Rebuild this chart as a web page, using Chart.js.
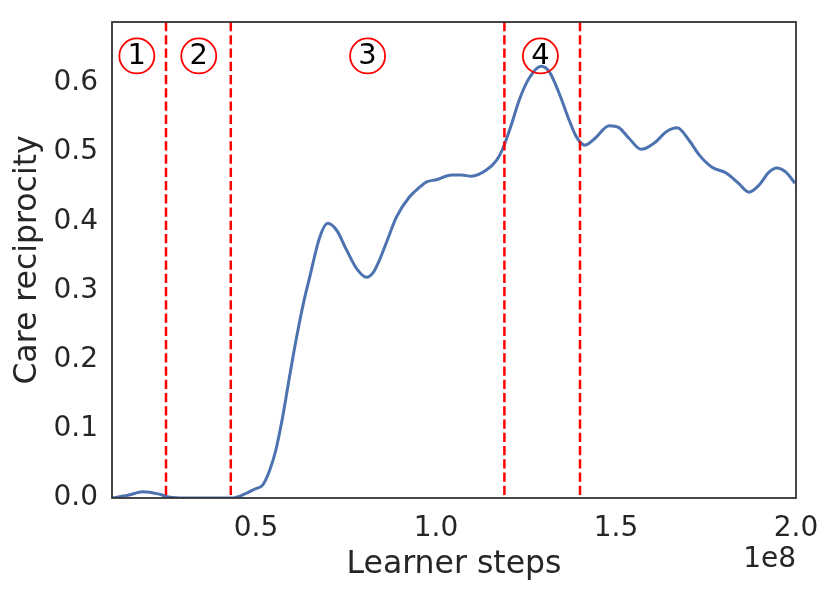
<!DOCTYPE html>
<html>
<head>
<meta charset="utf-8">
<script src="https://cdn.jsdelivr.net/npm/chart.js@4/dist/chart.umd.min.js"></script>
<style>
  html, body { margin: 0; padding: 0; background: #ffffff; }
  #wrap { width: 831px; height: 593px; }
</style>
</head>
<body>
<div id="wrap"><canvas id="c" width="831" height="593"></canvas></div>
<script>
// Learner steps (in units of 1e8)
const steps = [0.100, 0.144, 0.186, 0.228, 0.261, 0.302, 0.350, 0.400, 0.436, 0.474, 0.497, 0.519,
  0.538, 0.555, 0.574, 0.594, 0.613, 0.632, 0.649, 0.677, 0.699, 0.724, 0.752, 0.779, 0.807,
  0.827, 0.843, 0.865, 0.890, 0.926, 0.954, 0.974, 1.001, 1.043, 1.071, 1.098, 1.140, 1.168,
  1.184, 1.209, 1.231, 1.259, 1.292, 1.315, 1.342, 1.370, 1.390, 1.414, 1.442, 1.481, 1.509,
  1.536, 1.570, 1.606, 1.642, 1.670, 1.703, 1.731, 1.767, 1.805, 1.842, 1.869, 1.897, 1.925,
  1.947, 1.972, 1.997];
// Care reciprocity
const careReciprocity = [0.000, 0.004, 0.009, 0.006, 0.001, 0.000, 0.000, 0.000, 0.000, 0.007, 0.013, 0.019,
  0.040, 0.069, 0.117, 0.178, 0.233, 0.282, 0.319, 0.377, 0.397, 0.387, 0.358, 0.332, 0.319,
  0.327, 0.344, 0.373, 0.406, 0.435, 0.449, 0.457, 0.460, 0.467, 0.467, 0.465, 0.474, 0.488,
  0.503, 0.539, 0.575, 0.607, 0.624, 0.616, 0.585, 0.546, 0.522, 0.510, 0.520, 0.538, 0.535,
  0.520, 0.504, 0.513, 0.530, 0.535, 0.517, 0.496, 0.478, 0.470, 0.454, 0.442, 0.452, 0.471,
  0.477, 0.471, 0.455];
// Phase boundaries (vertical dashed lines), in units of 1e8
const phaseBoundaries = [0.25, 0.43, 1.19, 1.40];
// Phase labels and their x positions
const phaseLabels = ['1', '2', '3', '4'];
const phaseLabelX = [0.169, 0.341, 0.810, 1.290];
const phaseLabelY = 0.639;
// Tick labels
const xTicks = [0.5, 1.0, 1.5, 2.0];
const yTicks = [0.0, 0.1, 0.2, 0.3, 0.4, 0.5, 0.6];
const xRange = [0.1, 2.0];
const yRange = [0, 0.688];

const FONT = "'DejaVu Sans', sans-serif";
const TEXT = '#262626';

const overlay = {
  id: 'overlay',
  afterDatasetsDraw(chart) {
    const {ctx, chartArea: a, scales: {x, y}} = chart;
    ctx.save();
    // dashed phase boundaries
    ctx.strokeStyle = '#ff0000';
    ctx.lineWidth = 2.5;
    ctx.setLineDash([9.25, 4]);
    phaseBoundaries.forEach(b => {
      const px = x.getPixelForValue(b);
      ctx.beginPath();
      ctx.moveTo(px, a.top);
      ctx.lineTo(px, a.bottom);
      ctx.stroke();
    });
    ctx.setLineDash([]);
    // circled labels
    phaseLabels.forEach((t, i) => {
      const px = x.getPixelForValue(phaseLabelX[i]);
      const py = y.getPixelForValue(phaseLabelY);
      ctx.beginPath();
      ctx.arc(px, py, 17.5, 0, Math.PI * 2);
      ctx.strokeStyle = '#ff0000';
      ctx.lineWidth = 1.8;
      ctx.stroke();
      ctx.fillStyle = '#000000';
      ctx.font = '29px ' + FONT;
      ctx.textAlign = 'center';
      ctx.textBaseline = 'middle';
      ctx.fillText(t, px, py + 1);
    });
    // frame
    ctx.strokeStyle = '#333333';
    ctx.lineWidth = 1.8;
    ctx.strokeRect(a.left, a.top, a.right - a.left, a.bottom - a.top);
    // offset text
    ctx.fillStyle = TEXT;
    ctx.font = '28px ' + FONT;
    ctx.textAlign = 'right';
    ctx.textBaseline = 'middle';
    ctx.fillText('1e8', a.right, 560);
    ctx.restore();
  }
};

new Chart(document.getElementById('c'), {
  type: 'line',
  data: {
    datasets: [{
      data: steps.map((s, i) => ({x: s, y: careReciprocity[i]})),
      borderColor: '#4c72b0',
      borderWidth: 3,
      pointRadius: 0,
      cubicInterpolationMode: 'monotone',
      fill: false
    }]
  },
  options: {
    responsive: false,
    animation: false,
    clip: 0,
    layout: { padding: { top: 22, right: 35, left: 0, bottom: 0 } },
    plugins: { legend: { display: false }, tooltip: { enabled: false } },
    scales: {
      x: {
        type: 'linear',
        min: xRange[0], max: xRange[1],
        afterBuildTicks: s => { s.ticks = xTicks.map(v => ({value: v})); },
        afterFit: s => { s.height = 95; s.paddingLeft = 0; s.paddingRight = 0; },
        grid: { display: false, drawTicks: false },
        border: { display: false },
        ticks: { color: TEXT, font: { family: FONT, size: 28 }, padding: 14,
                 maxRotation: 0, autoSkip: false, callback: v => v.toFixed(1) },
        title: { display: true, text: 'Learner steps', color: TEXT,
                 font: { family: FONT, size: 31.5 }, padding: { top: 0, bottom: 9 } }
      },
      y: {
        type: 'linear',
        min: yRange[0], max: yRange[1],
        afterBuildTicks: s => { s.ticks = yTicks.map(v => ({value: v})); },
        afterFit: s => { s.width = 112; s.paddingTop = 0; s.paddingBottom = 0; },
        grid: { display: false, drawTicks: false },
        border: { display: false },
        ticks: { color: TEXT, font: { family: FONT, size: 28 }, padding: 14,
                 autoSkip: false, callback: v => v.toFixed(1) },
        title: { display: true, text: 'Care reciprocity', color: TEXT,
                 font: { family: FONT, size: 31.5 }, padding: { top: 9, bottom: 0 } }
      }
    }
  },
  plugins: [overlay]
});
</script>
</body>
</html>
